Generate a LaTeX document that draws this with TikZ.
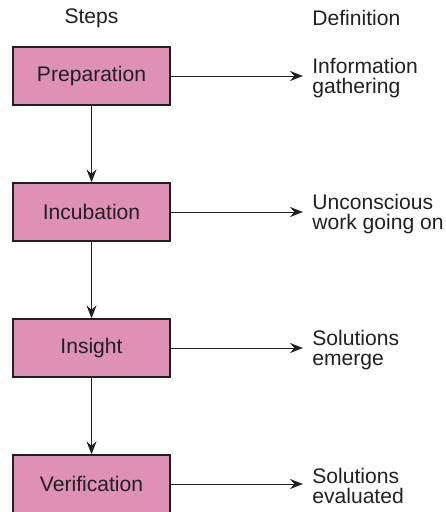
\documentclass[tikz,border=0pt]{standalone}
\usepackage{fontspec}
\setmainfont{Liberation Sans}
\usetikzlibrary{arrows.meta}

\definecolor{steppink}{RGB}{222,145,180}
\definecolor{inkgray}{RGB}{35,31,32}

\begin{document}
\begin{tikzpicture}[
  stepbox/.style={rectangle,draw=inkgray,fill=steppink,line width=0.8pt,
    minimum width=3.14cm,minimum height=1.16cm,inner sep=0pt},
  defbox/.style={anchor=west,align=left,inner xsep=0.18cm,inner ysep=0pt},
  link/.style={-{Stealth[length=2.6mm,width=2mm,inset=0.9mm]},line width=0.55pt},
  every node/.style={text=inkgray,font=\fontsize{12}{11}\selectfont},
  color=inkgray
]
\useasboundingbox (0,0) rectangle (8.92,-10.24);

\path (1.83,-0.36) node(steps_head) {Steps}
(6.06,-0.36) node[defbox](def_head) {Definition}
(1.83,-1.52) node[stepbox](prep) {Preparation}
(1.83,-4.24) node[stepbox](incub) {Incubation}
(1.83,-6.96) node[stepbox](insight) {Insight}
(1.83,-9.68) node[stepbox](verif) {Verification}
(6.06,-1.56) node[defbox](prep_def) {Information\\gathering}
(6.06,-4.28) node[defbox](incub_def) {Unconscious\\work going on}
(6.06,-7.0) node[defbox](insight_def) {Solutions\\emerge}
(6.06,-9.72) node[defbox](verif_def) {Solutions\\evaluated}
;
\draw[link] (prep) -- (incub);
\draw[link] (incub) -- (insight);
\draw[link] (insight) -- (verif);

\draw[link] (prep.east) -- (prep.east -| prep_def.west);
\draw[link] (incub.east) -- (incub.east -| incub_def.west);
\draw[link] (insight.east) -- (insight.east -| insight_def.west);
\draw[link] (verif.east) -- (verif.east -| verif_def.west);

\end{tikzpicture}
\end{document}
